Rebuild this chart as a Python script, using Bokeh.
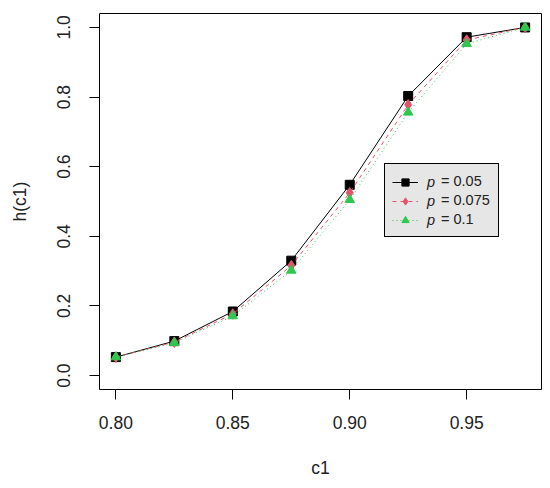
from bokeh.plotting import figure
from bokeh.models import Legend, LegendItem, FixedTicker, Range1d
from bokeh.embed import file_html
from bokeh.resources import INLINE

# ---- data ----
c1 = [0.800, 0.825, 0.850, 0.875, 0.900, 0.925, 0.950, 0.975]
h_p005 = [0.053, 0.099, 0.184, 0.330, 0.548, 0.803, 0.972, 1.000]
h_p0075 = [0.053, 0.096, 0.177, 0.316, 0.525, 0.778, 0.964, 1.000]
h_p01 = [0.053, 0.094, 0.171, 0.302, 0.505, 0.756, 0.953, 1.000]
series_symbol = "p"
series_values = ["= 0.05", "= 0.075", "= 0.1"]
x_ticks = [0.80, 0.85, 0.90, 0.95]
x_tick_labels = ["0.80", "0.85", "0.90", "0.95"]
y_ticks = [0.0, 0.2, 0.4, 0.6, 0.8, 1.0]
y_tick_labels = ["0.0", "0.2", "0.4", "0.6", "0.8", "1.0"]

FONT = "Liberation Sans"
TXT = "#222222"
BLACK = "#000000"
PINK = "#E5526C"
GREEN = "#2DC84D"

p = figure(width=542, height=480, output_backend="svg", toolbar_location=None,
           x_range=Range1d(0.793, 0.982), y_range=Range1d(-0.04, 1.04),
           min_border_left=99, min_border_right=1, min_border_top=13,
           min_border_bottom=91)
p.background_fill_color = "white"
p.border_fill_color = "white"
p.outline_line_color = "black"
p.outline_line_width = 1
p.outline_line_alpha = 1.0
p.grid.visible = False

for ax in (p.xaxis[0], p.yaxis[0]):
    ax.axis_line_color = None
    ax.major_tick_out = 10
    ax.major_tick_in = 0
    ax.minor_tick_out = 0
    ax.minor_tick_in = 0
    ax.major_tick_line_color = "black"
    ax.major_label_text_font = FONT
    ax.major_label_text_font_size = "17.5px"
    ax.major_label_text_color = TXT
    ax.axis_label_text_font = FONT
    ax.axis_label_text_font_size = "17.5px"
    ax.axis_label_text_font_style = "normal"
    ax.axis_label_text_color = TXT

p.xaxis.ticker = FixedTicker(ticks=x_ticks)
p.xaxis.major_label_overrides = dict(zip(x_ticks, x_tick_labels))
p.yaxis.ticker = FixedTicker(ticks=y_ticks)
p.yaxis.major_label_overrides = dict(zip(y_ticks, y_tick_labels))
p.yaxis.major_label_orientation = "parallel"
p.xaxis.axis_label = "c1"
p.yaxis.axis_label = "h(c1)"
p.xaxis.major_label_standoff = 16
p.xaxis.axis_label_standoff = 26
p.yaxis.major_label_standoff = 19
p.yaxis.axis_label_standoff = 25

l1 = p.line(c1, h_p005, line_color=BLACK, line_width=1)
m1 = p.scatter(c1, h_p005, marker="square", size=9, fill_color=BLACK, line_color=BLACK)
l2 = p.line(c1, h_p0075, line_color=PINK, line_width=1, line_dash="4 4")
m2 = p.scatter(c1, h_p0075, marker="diamond", size=10.5, fill_color=PINK, line_color=PINK)
l3 = p.line(c1, h_p01, line_color=GREEN, line_width=1, line_dash="1 3")
m3 = p.scatter(c1, h_p01, marker="triangle", size=9.5, fill_color=GREEN, line_color=GREEN)

# invisible renderer used only to carry the "= value" legend texts
ghost = p.line([], [], line_alpha=0)

common = dict(location=(285, 152), orientation="vertical", padding=8, spacing=1,
              margin=0, glyph_height=18, label_height=18,
              label_text_font=FONT, label_text_font_size="14.5px",
              label_text_color=TXT)

# background box + "= value" texts
legend_bg = Legend(items=[LegendItem(label=v, renderers=[ghost]) for v in series_values],
                   glyph_width=26, label_standoff=22,
                   background_fill_color="#e6e6e6", background_fill_alpha=1.0,
                   border_line_color="black", border_line_width=1,
                   border_line_alpha=1.0, **common)
p.add_layout(legend_bg)

# glyph samples + italic symbol, drawn on top
legend_fg = Legend(items=[LegendItem(label=series_symbol, renderers=[l1, m1]),
                          LegendItem(label=series_symbol, renderers=[l2, m2]),
                          LegendItem(label=series_symbol, renderers=[l3, m3])],
                   glyph_width=26, label_standoff=9,
                   label_text_font_style="italic",
                   background_fill_alpha=0.0, border_line_alpha=0.0, **common)
p.add_layout(legend_fg)

open("out.html", "w").write(file_html(p, INLINE))
